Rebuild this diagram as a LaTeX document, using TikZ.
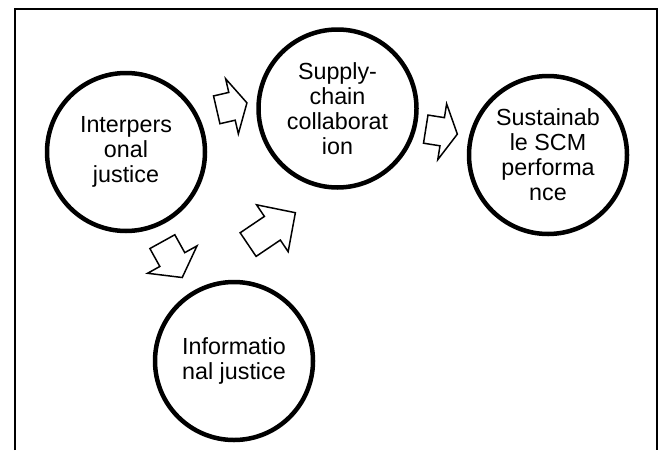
\documentclass[tikz,border=0pt]{standalone}
\usepackage{fontspec}
\setmainfont{Liberation Sans}
\usetikzlibrary{shapes.arrows}

\tikzset{
  factor/.style={circle,draw,line width=4.5pt,minimum size=158pt,inner sep=0pt,align=center,font=\fontsize{23.3}{25}\selectfont},
  blockarrow/.style={single arrow,draw,line width=1.5pt,fill=white,inner xsep=0pt,inner ysep=13.5pt,single arrow head extend=14pt,anchor=tail}
}

\begin{document}
\begin{tikzpicture}[x=1pt,y=-1pt]
\useasboundingbox (0,0) rectangle (660,450);
\draw[line width=1.5pt] (15,450)--(15,9)--(657,9)--(657,450);

\draw (126,152) node[factor] (IP) {Interpers\\onal\\justice} +(211.5,-43.5) node[factor] (SC) {Supply-\\chain\\collaborat\\ion} +(422,3) node[factor] (SS) {Sustainab\\le SCM\\performa\\nce} +(108,209) node[factor] (IF) {Informatio\\nal justice};

\node (A1) [blockarrow,rotate=13,minimum height=31pt,single arrow tip angle=123] at (216,110) {};
\node (A2) [blockarrow,rotate=-9,minimum height=32pt,single arrow tip angle=123] at (425,129) {};
\node (A3) [blockarrow,rotate=-61,minimum height=41pt,single arrow tip angle=108] at (162,241) {};
\node (A4) [blockarrow,rotate=34,minimum height=57pt,single arrow tip angle=91] at (247.5,245) {};
\end{tikzpicture}
\end{document}
